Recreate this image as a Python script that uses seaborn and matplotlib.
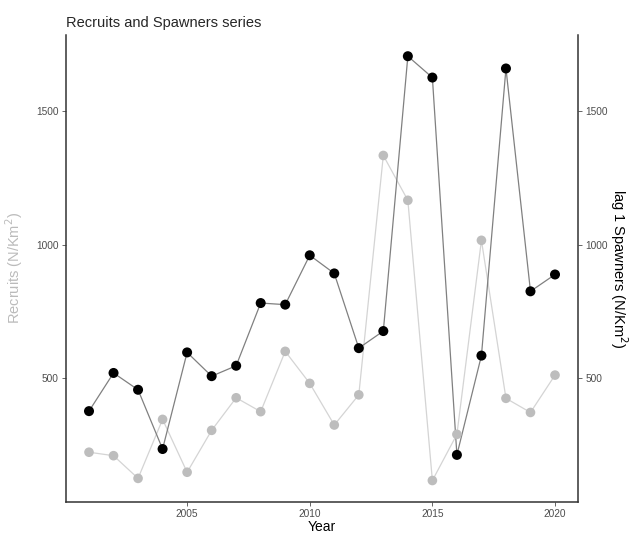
import matplotlib
matplotlib.use("Agg")
import matplotlib.pyplot as plt
import pandas as pd
import seaborn as sns

# values
years = list(range(2001, 2021))
recruits = [222, 209, 124, 345, 147, 304, 426, 374, 600, 480,
            324, 437, 1334, 1166, 116, 289, 1016, 424, 371, 511]
spawners = [376, 519, 456, 234, 596, 507, 546, 781, 775, 960,
            892, 612, 676, 1706, 1626, 212, 584, 1660, 825, 888]

df = pd.DataFrame({"Year": years, "Recruits": recruits, "Spawners": spawners})

sns.set_theme(style="white")
plt.rcParams["font.family"] = ["Liberation Sans", "DejaVu Sans"]

fig = plt.figure(figsize=(6.33, 5.35), dpi=100)
ax = fig.add_axes([0.1038, 0.0622, 0.8098, 0.8724])

sns.lineplot(data=df, x="Year", y="Recruits", ax=ax, color="#d4d4d4", linewidth=0.9)
sns.scatterplot(data=df, x="Year", y="Recruits", ax=ax, color="#bdbdbd", s=48,
                edgecolor="none", zorder=3)
sns.lineplot(data=df, x="Year", y="Spawners", ax=ax, color="#808080", linewidth=0.9)
sns.scatterplot(data=df, x="Year", y="Spawners", ax=ax, color="black", s=52,
                edgecolor="none", zorder=4)

# ggplot-style 5% expansion on both axes
lo = min(recruits + spawners)
hi = max(recruits + spawners)
pad = (hi - lo) * 0.05
ax.set_ylim(lo - pad, hi + pad)
ax.set_xlim(2001 - 0.95, 2020 + 0.95)
ax.set_xticks([2005, 2010, 2015, 2020])
ax.set_yticks([500, 1000, 1500])

ax2 = ax.twinx()
ax2.set_ylim(ax.get_ylim())
ax2.set_yticks([500, 1000, 1500])

for a in (ax, ax2):
    a.tick_params(axis="both", length=3, width=0.6, colors="#4d4d4d", labelsize=7.3, pad=2)
    for side in ("left", "right", "bottom", "top"):
        a.spines[side].set_visible(False)
ax.spines["left"].set_visible(True)
ax.spines["bottom"].set_visible(True)
ax2.spines["right"].set_visible(True)
for sp in (ax.spines["left"], ax.spines["bottom"], ax2.spines["right"]):
    sp.set_color("#333333")
    sp.set_linewidth(1.1)
ax.tick_params(axis="x", bottom=True)
ax.tick_params(axis="y", left=True)
ax2.tick_params(axis="y", right=True)

ax.set_xlabel("Year", fontsize=10, color="black", labelpad=1)
ax.set_ylabel("Recruits (N/Km$^2$)", fontsize=10.5, color="#bbbbbb", labelpad=8)
ax2.set_ylabel("lag 1 Spawners (N/Km$^2$)", fontsize=10.5, color="black",
               rotation=270, labelpad=16)
ax.set_title("Recruits and Spawners series", loc="left", fontsize=10.5, pad=6)

fig.savefig("out.png", dpi=100)
